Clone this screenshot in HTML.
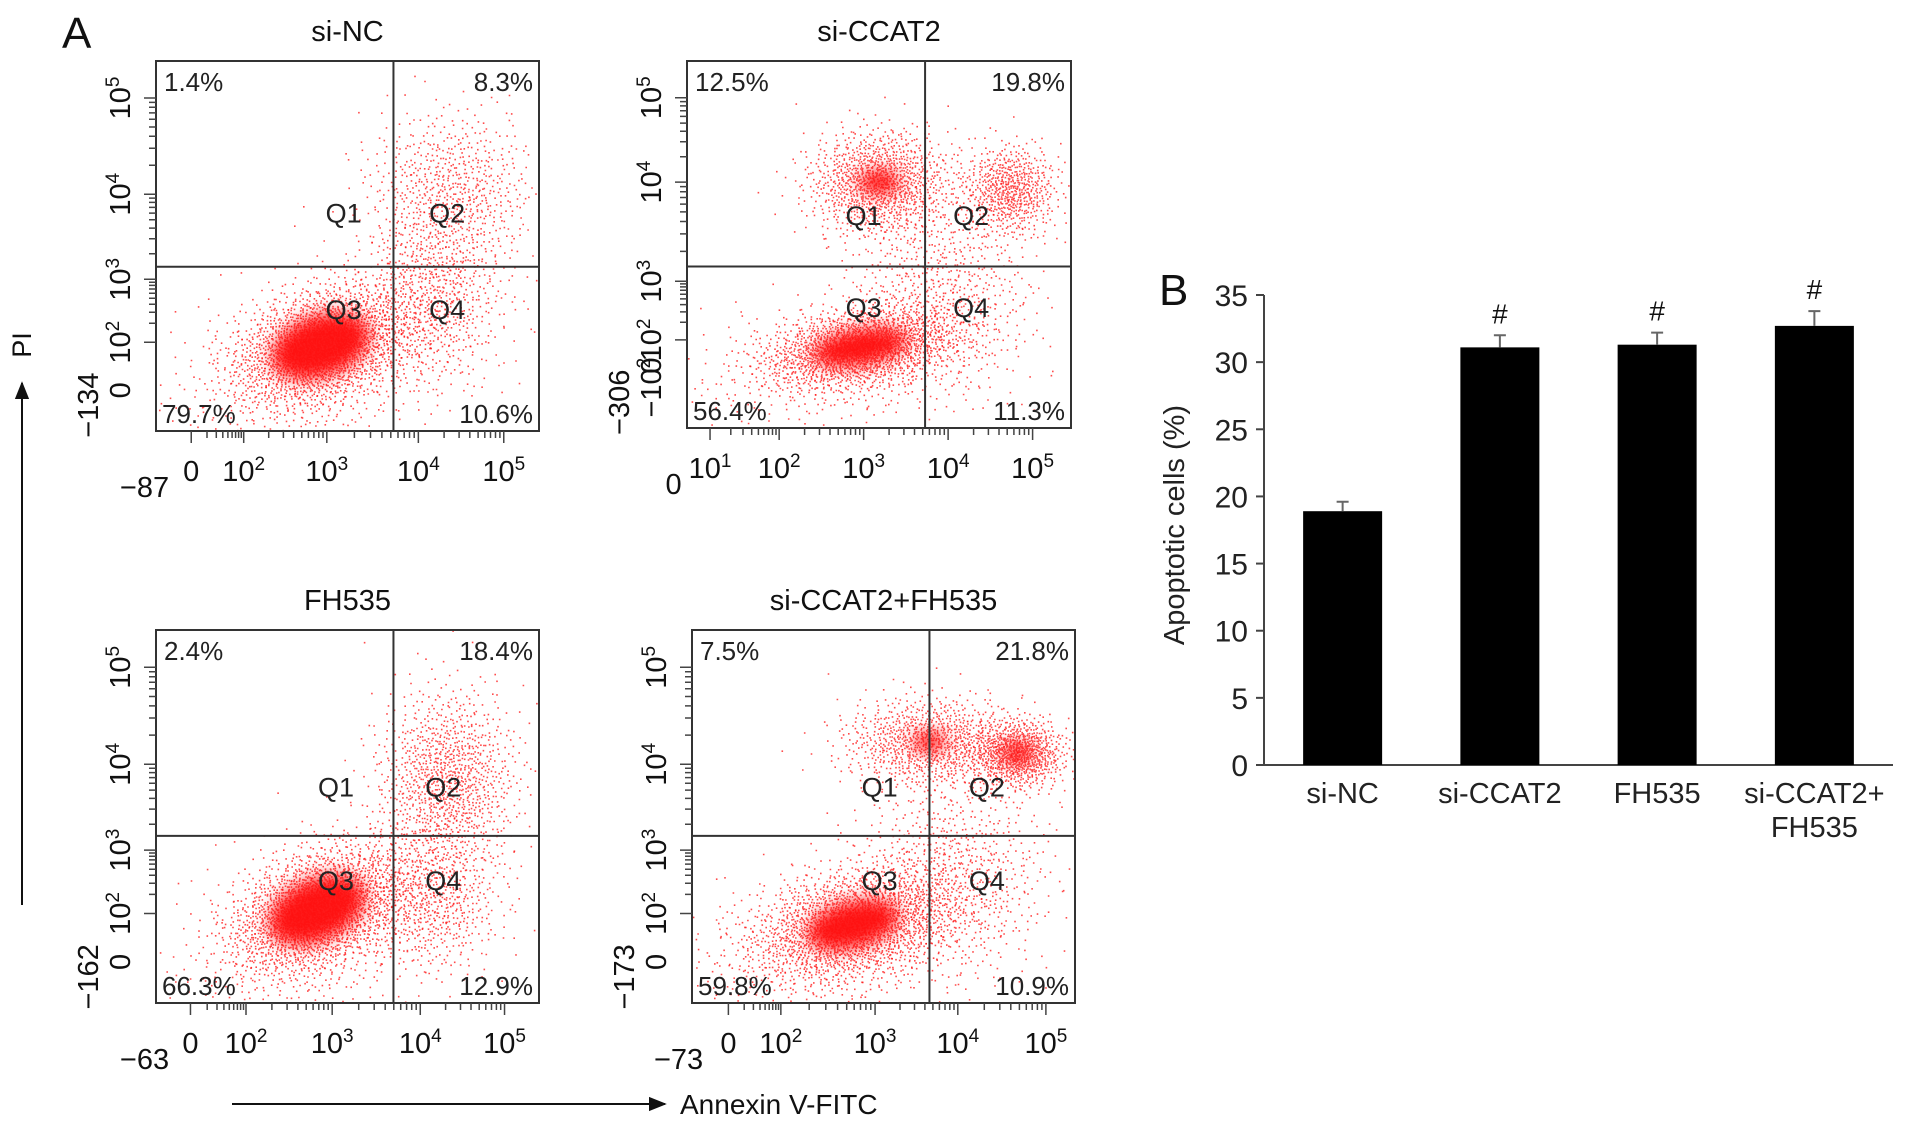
<!DOCTYPE html>
<html><head><meta charset="utf-8"><style>
html,body{margin:0;padding:0;background:#fff;}
svg{display:block;font-family:"Liberation Sans",Arial,sans-serif;}
</style></head><body>
<svg id="fig" width="1913" height="1128" viewBox="0 0 1913 1128" xmlns="http://www.w3.org/2000/svg">
<defs>
<filter id="blur6" x="-50%" y="-50%" width="200%" height="200%"><feGaussianBlur stdDeviation="8"/></filter>
<marker id="ah" viewBox="0 0 10 10" refX="9" refY="5" markerWidth="9" markerHeight="9" orient="auto"><path d="M0,1 L10,5 L0,9 z" fill="#111"/></marker>
</defs>
<text x="62" y="48" font-size="44" fill="#111">A</text>
<text x="1159" y="305" font-size="44" fill="#111">B</text>
<line x1="22" y1="905" x2="22" y2="383" stroke="#111" stroke-width="2" marker-end="url(#ah)"/>
<text transform="translate(31,345) rotate(-90)" font-size="27" text-anchor="middle" fill="#111">PI</text>
<line x1="232" y1="1104" x2="665" y2="1104" stroke="#111" stroke-width="2" marker-end="url(#ah)"/>
<text x="680" y="1114" font-size="28" fill="#111">Annexin V-FITC</text>
<g id="flow"></g>
<g id="bars"></g>
</svg>
<script>
// ---------- Flow cytometry data ----------
const panelTitles = ["si-NC","si-CCAT2","FH535","si-CCAT2+FH535"];
const q1Pct = ["1.4%","12.5%","2.4%","7.5%"];
const q2Pct = ["8.3%","19.8%","18.4%","21.8%"];
const q3Pct = ["79.7%","56.4%","66.3%","59.8%"];
const q4Pct = ["10.6%","11.3%","12.9%","10.9%"];
const xTickLabels = [["−87","0","10^2","10^3","10^4","10^5"],["0","10^1","10^2","10^3","10^4","10^5"],["−63","0","10^2","10^3","10^4","10^5"],["−73","0","10^2","10^3","10^4","10^5"]];
const xTickFrac = [[-0.03,0.092,0.229,0.446,0.685,0.908],[-0.035,0.06,0.24,0.46,0.68,0.90],[-0.03,0.09,0.235,0.46,0.69,0.91],[-0.035,0.095,0.232,0.478,0.694,0.924]];
const yTickLabels = [["10^5","10^4","10^3","10^2","0","−134"],["10^5","10^4","10^3","10^2","0","−10^2","−306"],["10^5","10^4","10^3","10^2","0","−162"],["10^5","10^4","10^3","10^2","0","−173"]];
const yTickFrac = [[0.10,0.36,0.59,0.76,0.89,0.93],[0.10,0.33,0.60,0.76,0.83,0.89,0.93],[0.10,0.36,0.59,0.76,0.89,0.93],[0.10,0.36,0.59,0.76,0.89,0.93]];
// quadrant gate positions (fraction of plot width / height)
const gateX = [0.62,0.62,0.62,0.62];
const gateY = [0.556,0.56,0.552,0.552];
// clusters: [fx, fy, sigmaX, sigmaY, angleDeg, dotCount, coreRx, coreRy]
const clusters1 = [[0.43,0.77,0.11,0.07,-20,2200,0.13,0.08],[0.45,0.80,0.22,0.11,-20,700,0,0],[0.77,0.35,0.11,0.11,0,700,0,0],[0.72,0.63,0.09,0.12,0,650,0,0]];
const clusters2 = [[0.45,0.78,0.12,0.05,-10,1900,0.12,0.045],[0.50,0.33,0.09,0.07,0,1200,0.05,0.03],[0.84,0.35,0.06,0.06,0,650,0,0],[0.66,0.62,0.12,0.15,0,700,0,0],[0.40,0.82,0.22,0.09,-10,400,0,0]];
const clusters3 = [[0.42,0.75,0.11,0.07,-25,2200,0.13,0.08],[0.44,0.78,0.2,0.11,-25,700,0,0],[0.76,0.40,0.09,0.12,0,1100,0,0],[0.72,0.72,0.09,0.1,0,600,0,0]];
const clusters4 = [[0.42,0.79,0.13,0.07,-15,2000,0.12,0.06],[0.40,0.82,0.24,0.1,-15,600,0,0],[0.62,0.30,0.11,0.06,0,1000,0.04,0.025],[0.85,0.33,0.06,0.045,0,850,0.035,0.025],[0.68,0.65,0.12,0.14,0,700,0,0]];
const allClusters = [clusters1,clusters2,clusters3,clusters4];
const qLabelPos = [[0.49,0.76,0.41,0.67],[0.46,0.74,0.42,0.67],[0.47,0.75,0.42,0.67],[0.49,0.77,0.42,0.67]];
const boxes = [[156,61,383,370],[687,61,384,367],[156,630,383,373],[692,630,383,373]];

// ---------- Bar chart data ----------
const barCategories = ["si-NC","si-CCAT2","FH535","si-CCAT2+FH535"];
const barValues = [18.9,31.1,31.3,32.7];
const barErrors = [0.7,0.9,0.9,1.1];
const barSig = ["","#","#","#"];
const barTicks = [0,5,10,15,20,25,30,35];

const NS="http://www.w3.org/2000/svg";
function mk(tag,attrs,parent){const e=document.createElementNS(NS,tag);for(const k in attrs)e.setAttribute(k,attrs[k]);parent.appendChild(e);return e;}
function setLabel(e,l){
  if(l.includes('^')){const [b,ex]=l.split('^');e.appendChild(document.createTextNode(b));
    const ts=mk('tspan',{dy:-11,'font-size':19},e);ts.textContent=ex;}
  else e.textContent=l;
}
function halton(i,b){let f=1,r=0;while(i>0){f/=b;r+=f*(i%b);i=Math.floor(i/b);}return r;}

const flow=document.getElementById('flow');
for(let p=0;p<4;p++){
  const [bx,by,bw,bh]=boxes[p];
  const sx=f=>bx+f*bw, sy=f=>by+f*bh;
  const g=mk('g',{},flow);
  
  
  const t=mk('text',{x:bx+bw/2,y:by-20,'font-size':29,'text-anchor':'middle',fill:'#111'},g);
  t.textContent=panelTitles[p];
  
  
  const clip=mk('clipPath',{id:'clip'+p},g);
  mk('rect',{x:bx,y:by,width:bw,height:bh},clip);
  const dots=mk('g',{'clip-path':'url(#clip'+p+')'},g);
  allClusters[p].forEach((c,ci)=>{
    const [fx,fy,sgx,sgy,ang,n,crx,cry]=c;
    const a=ang*Math.PI/180;
    if(crx>0){
      const el=mk('ellipse',{cx:sx(fx),cy:sy(fy),rx:crx*bw,ry:cry*bh,fill:'#ff0000','fill-opacity':0.9,filter:'url(#blur6)',transform:`rotate(${ang} ${sx(fx)} ${sy(fy)})`},dots);
      
      
    }
    let d='';
    for(let i=1;i<=n;i++){
      const u1=Math.max(1e-4,halton(i+ci*37,2)),u2=halton(i+ci*37,3);
      const r=Math.sqrt(-2*Math.log(u1));
      const gx=r*Math.cos(2*Math.PI*u2)*sgx*bw, gy=r*Math.sin(2*Math.PI*u2)*sgy*bh;
      const x=sx(fx)+gx*Math.cos(a)-gy*Math.sin(a), y=sy(fy)+gx*Math.sin(a)+gy*Math.cos(a);
      d+=`M${x.toFixed(1)},${y.toFixed(1)}h1.6v1.6h-1.6z`;
    }
    const pth=mk('path',{d:d,fill:'#ff1010','fill-opacity':0.75},dots);
    
    
  });
  const box=mk('rect',{x:bx,y:by,width:bw,height:bh,fill:'none',stroke:'#333','stroke-width':2},g);
  
  
  const vl=mk('line',{x1:sx(gateX[p]),x2:sx(gateX[p]),y1:by,y2:by+bh,stroke:'#333','stroke-width':2},g);
  
  
  const hl=mk('line',{x1:bx,x2:bx+bw,y1:sy(gateY[p]),y2:sy(gateY[p]),stroke:'#333','stroke-width':2},g);
  
  
  const pcts=[[q1Pct[p],bx+8,by+30,'start'],[q2Pct[p],bx+bw-6,by+30,'end'],[q3Pct[p],bx+6,by+bh-8,'start'],[q4Pct[p],bx+bw-6,by+bh-8,'end']];
  pcts.forEach((q,qi)=>{const e=mk('text',{x:q[1],y:q[2],'font-size':26,'text-anchor':q[3],fill:'#222'},g);e.textContent=q[0];
    
    });
  const ql=qLabelPos[p];
  [['Q1',ql[0],ql[2]],['Q2',ql[1],ql[2]],['Q3',ql[0],ql[3]],['Q4',ql[1],ql[3]]].forEach(q=>{
    const e=mk('text',{x:sx(q[1]),y:sy(q[2])+10,'font-size':27,'text-anchor':'middle',fill:'#222'},g);e.textContent=q[0];
    
    });
  // ticks
  let td='';
  xTickFrac[p].forEach((f,i)=>{ if(i>0){const x=sx(f);td+=`M${x},${by+bh}v12`; if(i<5){const nx=sx(xTickFrac[p][i+1]);for(let k=2;k<10;k++){const mx=x+(nx-x)*Math.log10(k);td+=`M${mx.toFixed(1)},${by+bh}v7`;}}}});
  yTickFrac[p].forEach((f,i)=>{ if(i<4){const y=sy(f);td+=`M${bx},${y}h-12`; if(i<3){const ny=sy(yTickFrac[p][i+1]);for(let k=2;k<10;k++){const my=y+(ny-y)*(1-Math.log10(k));td+=`M${bx},${my.toFixed(1)}h-7`;}}}});
  const tk=mk('path',{d:td,stroke:'#444','stroke-width':1.5,fill:'none'},g);
  
  
  xTickLabels[p].forEach((l,i)=>{const e=mk('text',{x:sx(xTickFrac[p][i]),y:by+bh+(i===0?66:50),'font-size':29,'text-anchor':'middle',fill:'#111'},g);setLabel(e,l);
    
    });
  yTickLabels[p].forEach((l,i)=>{const last=i===yTickLabels[p].length-1;const x=bx-(last?58:26),y=sy(yTickFrac[p][i]);
    const e=mk('text',{transform:`translate(${x},${y}) rotate(-90)`,'font-size':29,'text-anchor':'middle',fill:'#111'},g);setLabel(e,l);
    
    });
}

// ---------- Bar chart ----------
const bars=document.getElementById('bars');
const ax0=1264, ax1=1893, y0=765, yMax=35, yTop=295;
const yS=v=>y0-(v/yMax)*(y0-yTop);
const band=(ax1-ax0)/barCategories.length;
const xC=i=>ax0+band*(i+0.5);
const bw=79;
const yax=mk('path',{d:`M${ax0},${yTop}V${y0}H${ax1}`,stroke:'#444','stroke-width':2,fill:'none'},bars);


barTicks.forEach(t=>{
  const tl=mk('line',{x1:ax0-8,x2:ax0,y1:yS(t),y2:yS(t),stroke:'#444','stroke-width':2},bars);
  
  
  const e=mk('text',{x:ax0-16,y:yS(t)+11,'font-size':30,'text-anchor':'end',fill:'#222'},bars);e.textContent=t;
  
  
});
const yt=mk('text',{transform:`translate(1184,525) rotate(-90)`,'font-size':29,'text-anchor':'middle',fill:'#222'},bars);
yt.textContent='Apoptotic cells (%)';


barValues.forEach((v,i)=>{
  const r=mk('rect',{x:xC(i)-bw/2,y:yS(v),width:bw,height:y0-yS(v),fill:'#000'},bars);
  
  
  const et=yS(v+barErrors[i]);
  const eb=mk('path',{d:`M${xC(i)},${yS(v)}V${et}M${xC(i)-6},${et}h12`,stroke:'#666','stroke-width':2,fill:'none'},bars);
  
  
  if(barSig[i]){const s=mk('text',{x:xC(i),y:et-12,'font-size':28,'text-anchor':'middle',fill:'#111'},bars);s.textContent=barSig[i];
    
    }
  const parts=barCategories[i].includes('+')?[barCategories[i].split('+')[0]+'+',barCategories[i].split('+')[1]]:[barCategories[i]];
  parts.forEach((pt,k)=>{const e=mk('text',{x:xC(i),y:803+k*34,'font-size':29,'text-anchor':'middle',fill:'#222'},bars);e.textContent=pt;
    
    });
});
</script>
</body></html>
